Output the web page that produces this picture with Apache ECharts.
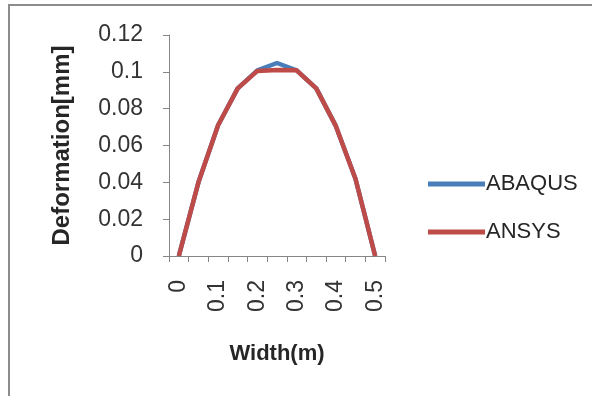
<!DOCTYPE html>
<html>
<head>
<meta charset="utf-8">
<script src="https://cdn.jsdelivr.net/npm/echarts@6/dist/echarts.min.js"></script>
<style>html,body{margin:0;padding:0;background:#fff;}#c{width:592px;height:396px;}</style>
</head>
<body>
<div id="c"></div>
<script>
var categories = ['0', '0.05', '0.1', '0.15', '0.2', '0.25', '0.3', '0.35', '0.4', '0.45', '0.5'];
var abaqus = [0, 0.040, 0.071, 0.091, 0.1008, 0.1048, 0.1008, 0.091, 0.0705, 0.0418, 0];
var ansys  = [0, 0.040, 0.071, 0.091, 0.1005, 0.1010, 0.1008, 0.091, 0.0705, 0.0418, 0];
var yTicks = ['0', '0.02', '0.04', '0.06', '0.08', '0.1', '0.12'];

var font = 'Liberation Sans';
var chart = echarts.init(document.getElementById('c'), null, {renderer: 'canvas'});
chart.setOption({
  animation: false,
  backgroundColor: '#fff',
  textStyle: {fontFamily: font},
  graphic: [
    {type: 'line', shape: {x1: 8, y1: 5, x2: 592, y2: 5}, style: {stroke: '#8c8c8c', lineWidth: 2}},
    {type: 'line', shape: {x1: 9, y1: 4, x2: 9, y2: 396}, style: {stroke: '#8c8c8c', lineWidth: 2}}
  ],
  grid: {left: 169, top: 35, width: 216, height: 221, containLabel: false},
  legend: {
    orient: 'vertical',
    left: 423, top: 168,
    itemWidth: 57, itemHeight: 5, itemGap: 26,
    icon: 'rect',
    textStyle: {fontFamily: font, fontSize: 22, color: '#262626', padding: [0, 0, 0, -4]},
    data: ['ABAQUS', 'ANSYS']
  },
  xAxis: {
    type: 'category',
    data: categories,
    boundaryGap: true,
    name: 'Width(m)',
    nameLocation: 'middle',
    nameGap: 87,
    nameTextStyle: {fontFamily: font, fontSize: 22, fontWeight: 'bold', color: '#262626', verticalAlign: 'top'},
    axisLine: {lineStyle: {color: '#868686', width: 1}},
    axisTick: {show: true, length: 6, interval: 0, lineStyle: {color: '#868686'}},
    axisLabel: {interval: 1, rotate: 90, margin: 24, fontFamily: font, fontSize: 23, color: '#333'}
  },
  yAxis: {
    type: 'value',
    min: 0, max: 0.12, interval: 0.02,
    name: 'Deformation[mm]',
    nameLocation: 'middle',
    nameGap: 95,
    nameTextStyle: {fontFamily: font, fontSize: 24, fontWeight: 'bold', color: '#262626'},
    axisLine: {show: true, lineStyle: {color: '#868686', width: 1}},
    axisTick: {show: true, length: 6, lineStyle: {color: '#868686'}},
    splitLine: {show: false},
    axisLabel: {
      margin: 26, fontFamily: font, fontSize: 23, color: '#333',
      formatter: function (v) { return yTicks[Math.round(v / 0.02)]; }
    }
  },
  series: [
    {name: 'ABAQUS', type: 'line', data: abaqus, symbol: 'none', lineStyle: {color: '#4a7ebb', width: 4.5}, itemStyle: {color: '#4a7ebb'}, z: 2},
    {name: 'ANSYS', type: 'line', data: ansys, symbol: 'none', lineStyle: {color: '#be4b48', width: 4.5}, itemStyle: {color: '#be4b48'}, z: 3}
  ]
});
</script>
</body>
</html>
